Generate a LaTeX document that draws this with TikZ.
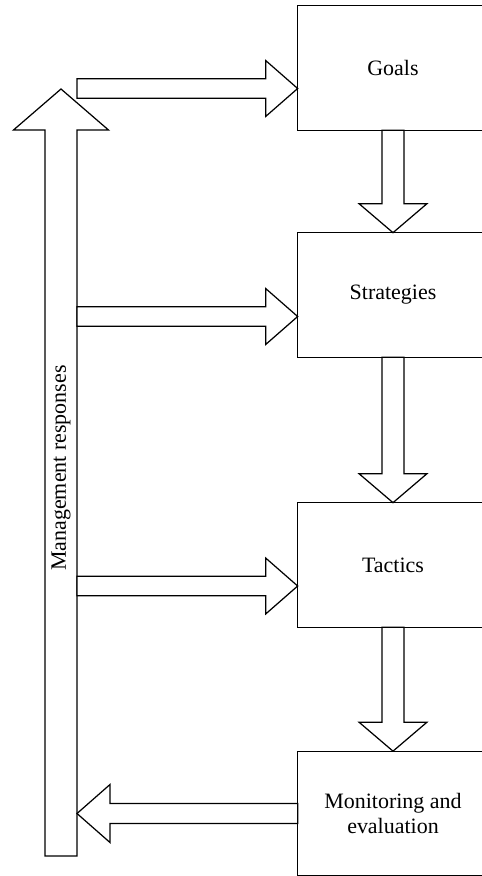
\documentclass[tikz,border=0pt]{standalone}
\usepackage{fontspec}
\setmainfont{Liberation Serif}
\usetikzlibrary{calc}
\tikzset{
  stage/.style={minimum width=3.8cm,minimum height=2.48cm,inner sep=0pt,
                align=center,font=\fontsize{12.5}{14.2}\selectfont},
  boxline/.style={draw=black,line width=0.7pt},
  blockarr/.style={draw=black,fill=white,line width=0.7pt,line join=miter},
  vlabel/.style={rotate=90,inner sep=0pt,font=\fontsize{12.5}{14.2}\selectfont}
}
% hollow block arrow: from, tip, shaft half width, head half width, head length
\newcommand\fatarrow[5]{%
  \path ($(#2)!#5!(#1)$) coordinate (hb);
  \draw[blockarr] ($(#1)!#3!90:(#2)$) -- ($(hb)!#3!90:(#2)$)
    -- ($(hb)!#4!90:(#2)$) -- (#2) -- ($(hb)!#4!-90:(#2)$)
    -- ($(hb)!#3!-90:(#2)$) -- ($(#1)!#3!-90:(#2)$) -- cycle;}

\begin{document}
\begin{tikzpicture}[x=0.02cm,y=-0.02cm]
    \useasboundingbox (0,0) rectangle (482,876);

    \node[stage] (goals) at (393,68) {Goals};
    \node[stage] (strat) at (393,295) {Strategies};
    \node[stage] (tact) at (393,565) {Tactics};
    \node[stage] (mon) at (393,813.5) {Monitoring and\\evaluation};
    % the boxes run on past the right margin
    \foreach \s in {goals,strat,tact,mon}
      \draw[boxline] (\s.south west) rectangle ([xshift=1cm]\s.north east);

    \fatarrow{goals.south}{strat.north}{0.22cm}{0.68cm}{0.58cm}
    \fatarrow{strat.south}{tact.north}{0.22cm}{0.68cm}{0.58cm}
    \fatarrow{tact.south}{mon.north}{0.22cm}{0.68cm}{0.58cm}

    \coordinate (resp-foot) at (61,856);
    \coordinate (resp-tip) at (61,89);
    \coordinate (shaft-r) at (77,0);
    \fatarrow{resp-foot}{resp-tip}{0.32cm}{0.95cm}{0.82cm}
    \node[vlabel] (resp) at (61,468) {Management responses};

    \coordinate (in-goals) at (77,88.5);
    \coordinate (in-strat) at (77,316.5);
    \coordinate (in-tact) at (77,586);
    \fatarrow{in-goals}{in-goals -| goals.west}{0.195cm}{0.56cm}{0.64cm}
    \fatarrow{in-strat}{in-strat -| strat.west}{0.195cm}{0.56cm}{0.64cm}
    \fatarrow{in-tact}{in-tact -| tact.west}{0.195cm}{0.56cm}{0.64cm}
    \fatarrow{mon.west}{mon.west -| shaft-r}{0.2cm}{0.58cm}{0.66cm}
\end{tikzpicture}
\end{document}
